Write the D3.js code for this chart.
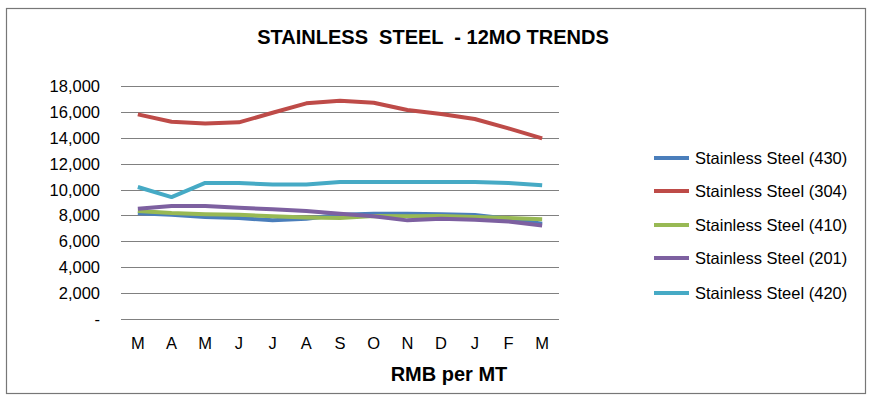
<!DOCTYPE html>
<html><head><meta charset="utf-8">
<script src="https://cdn.jsdelivr.net/npm/d3@7"></script>
<style>body{margin:0;background:#fff}svg{display:block}</style>
</head><body>
<svg id="c" width="873" height="399"></svg>
<script>
const months = ["M","A","M","J","J","A","S","O","N","D","J","F","M"];
const yTicks = [0,2000,4000,6000,8000,10000,12000,14000,16000,18000];
const seriesNames = ["Stainless Steel (430)","Stainless Steel (304)","Stainless Steel (410)","Stainless Steel (201)","Stainless Steel (420)"];
const seriesColors = ["#4A7EBB","#BE4B48","#98B954","#7D60A0","#46AAC5"];
const s430 = [8170,8060,7880,7800,7620,7750,8060,8140,8140,8100,8030,7750,7360];
const s304 = [15810,15240,15110,15190,15930,16660,16860,16710,16140,15830,15450,14730,13950];
const s410 = [8340,8180,8100,8060,7930,7850,7810,7950,7930,7950,7880,7800,7700];
const s201 = [8525,8730,8730,8600,8470,8340,8140,7930,7620,7750,7670,7540,7230];
const s420 = [10200,9420,10510,10510,10385,10385,10590,10590,10590,10590,10590,10510,10330];
const seriesValues = [s430,s304,s410,s201,s420];

const svg = d3.select("#c");
const font = "'Liberation Sans', Arial, sans-serif";

svg.append("rect").attr("x",6.5).attr("y",8.5).attr("width",859).attr("height",385)
  .attr("fill","#fff").attr("stroke","#777").attr("stroke-width",1.2);

svg.append("text").attr("x",433).attr("y",44).attr("text-anchor","middle")
  .attr("font-family",font)
  .attr("font-weight","bold").attr("font-size",20).attr("fill","#000")
  .attr("xml:space","preserve")
  .text("STAINLESS  STEEL  - 12MO TRENDS");

const x = d3.scaleBand().domain(d3.range(months.length)).range([121,559]);
const y = d3.scaleLinear().domain([0,18000]).range([319,86]);

// gridlines
svg.append("g").selectAll("line").data(yTicks).join("line")
  .attr("x1",121).attr("x2",559)
  .attr("y1",d=>Math.round(y(d))+0.5).attr("y2",d=>Math.round(y(d))+0.5)
  .attr("stroke","#808080").attr("stroke-width",1);

// y labels
const fmt = d3.format(",");
svg.append("g").selectAll("text").data(yTicks).join("text")
  .attr("x",100).attr("y",d=>y(d)+6).attr("text-anchor","end")
  .attr("font-family",font).attr("font-size",16.5).attr("fill","#000")
  .text(d=>d===0?"-":fmt(d));

// x labels
svg.append("g").selectAll("text").data(months).join("text")
  .attr("x",(d,i)=>x(i)+x.bandwidth()/2).attr("y",349).attr("text-anchor","middle")
  .attr("font-family",font).attr("font-size",16.5).attr("fill","#000")
  .text(d=>d);

svg.append("text").attr("x",449).attr("y",381).attr("text-anchor","middle")
  .attr("font-family",font).attr("font-weight","bold").attr("font-size",20).attr("fill","#000")
  .text("RMB per MT");

const line = d3.line().x((d,i)=>x(i)+x.bandwidth()/2).y(d=>y(d));
svg.append("g").selectAll("path").data(seriesValues).join("path")
  .attr("d",d=>line(d)).attr("fill","none")
  .attr("stroke",(d,i)=>seriesColors[i]).attr("stroke-width",4)
  .attr("stroke-linejoin","round").attr("stroke-linecap","butt");

// legend
const legY = [158,191,225,258,293];
const leg = svg.append("g").selectAll("g").data(seriesNames).join("g")
  .attr("transform",(d,i)=>`translate(0,${legY[i]})`);
leg.append("line").attr("x1",654).attr("x2",689).attr("y1",0).attr("y2",0)
  .attr("stroke",(d,i)=>seriesColors[i]).attr("stroke-width",4);
leg.append("text").attr("x",695).attr("y",6)
  .attr("font-family",font).attr("font-size",16.5).attr("fill","#000")
  .text(d=>d);
</script>
</body></html>
